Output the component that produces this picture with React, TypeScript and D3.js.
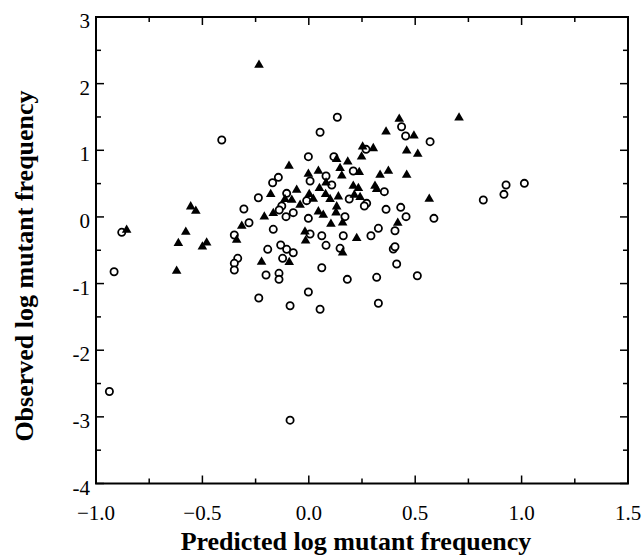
import React from 'react';
import * as d3 from 'd3';

// filled triangles: [predicted, observed]
const triangles: [number, number][] = [
  [-0.234, 2.28], [-0.856, -0.196], [-0.555, 0.154], [-0.531, 0.089], [-0.578, -0.226],
  [-0.613, -0.396], [-0.48, -0.387], [-0.5, -0.447], [-0.621, -0.811], [-0.339, -0.346],
  [-0.315, -0.136], [-0.222, -0.676], [-0.092, -0.681], [-0.209, 0.003], [-0.167, 0.054],
  [-0.179, 0.339], [-0.018, -0.222], [-0.015, -0.357], [0.104, -0.106], [0.159, -0.087],
  [0.225, -0.32], [0.159, -0.537], [0.418, -0.09], [0.706, 1.489], [0.425, 1.469],
  [0.363, 1.279], [0.494, 1.219], [0.46, 0.994], [0.512, 0.944], [0.253, 1.054],
  [0.303, 1.029], [0.248, 0.904], [0.131, 0.864], [0.183, 0.829], [-0.093, 0.764],
  [0.147, 0.729], [0.237, 0.669], [0.374, 0.689], [0.335, 0.629], [0.46, 0.629],
  [0.155, 0.619], [-0.002, 0.644], [0.045, 0.689], [0.081, 0.513], [0.05, 0.429],
  [0.209, 0.464], [0.233, 0.429], [0.311, 0.464], [0.319, 0.414], [-0.057, 0.404],
  [0.002, 0.339], [0.079, 0.339], [0.139, 0.304], [0.214, 0.329], [0.241, 0.294],
  [-0.112, 0.264], [-0.08, 0.254], [0.1, 0.264], [0.021, 0.269], [-0.041, 0.179],
  [0.045, 0.079], [0.068, 0.029], [0.131, 0.154], [0.128, 0.064], [0.566, 0.269],
];

// open circles: [predicted, observed]
const circles: [number, number][] = [
  [-0.409, 1.154], [-0.17, 0.513], [-0.143, 0.594], [-0.237, 0.288], [-0.305, 0.119],
  [-0.281, -0.087], [-0.167, -0.186], [-0.879, -0.231], [-0.35, -0.271], [-0.915, -0.822],
  [-0.334, -0.621], [-0.35, -0.696], [-0.35, -0.796], [-0.193, -0.486], [-0.201, -0.872],
  [-0.235, -1.217], [-0.14, -0.846], [-0.14, -0.937], [0.006, -0.256], [0.061, -0.282],
  [0.081, -0.426], [0.162, -0.282], [0.147, -0.471], [0.292, -0.282], [0.327, -0.171],
  [0.405, -0.207], [0.397, -0.481], [0.405, -0.447], [0.413, -0.706], [0.51, -0.882],
  [0.319, -0.906], [0.327, -1.296], [0.181, -0.937], [0.061, -0.762], [-0.002, -1.127],
  [-0.088, -1.332], [0.053, -1.386], [-0.132, -0.421], [-0.104, -0.486], [-0.073, -0.537],
  [-0.123, -0.621], [0.134, 1.495], [0.053, 1.27], [0.436, 1.354], [0.455, 1.214],
  [0.57, 1.129], [0.269, 1.014], [-0.002, 0.904], [0.118, 0.904], [0.209, 0.689],
  [0.081, 0.614], [0.006, 0.539], [0.108, 0.479], [0.355, 0.379], [-0.104, 0.354],
  [0.19, 0.269], [-0.01, 0.244], [-0.127, 0.164], [-0.073, 0.064], [-0.107, 0.004],
  [-0.139, 0.104], [-0.002, -0.021], [0.17, 0.004], [0.272, 0.204], [0.261, 0.164],
  [0.363, 0.114], [0.432, 0.144], [0.457, 0.004], [0.588, -0.021], [0.927, 0.479],
  [1.013, 0.504], [0.917, 0.339], [0.82, 0.254], [-0.937, -2.62], [-0.088, -3.05],
];

const xTicks = [-1.0, -0.5, 0.0, 0.5, 1.0, 1.5];
const xMinor = [-0.75, -0.25, 0.25, 0.75, 1.25];
const yTicks = [-4, -3, -2, -1, 0, 1, 2, 3];
const yMinor = [-3.5, -2.5, -1.5, -0.5, 0.5, 1.5, 2.5];

const W = 642;
const H = 556;
const left = 96, right = 628, top = 17, bottom = 483.5;
const serif = '"Liberation Serif", "Times New Roman", Times, serif';

export default function App() {
  const x = d3.scaleLinear().domain([-1, 1.5]).range([left, right]);
  const y = d3.scaleLinear().domain([-4, 3]).range([bottom, top]);
  const tri = d3.symbol().type(d3.symbolTriangle).size(40)();

  return (
    <svg width={W} height={H} style={{ position: 'absolute', left: 0, top: 0, background: '#fff' }}>
      {/* ticks on all four sides, inward */}
      <g stroke="#000" strokeWidth={1.5}>
        {xTicks.map(t => (
          <g key={'xt' + t}>
            <line x1={x(t)} x2={x(t)} y1={bottom} y2={bottom - 8} />
            <line x1={x(t)} x2={x(t)} y1={top} y2={top + 8} />
          </g>
        ))}
        {xMinor.map(t => (
          <g key={'xm' + t}>
            <line x1={x(t)} x2={x(t)} y1={bottom} y2={bottom - 5} />
            <line x1={x(t)} x2={x(t)} y1={top} y2={top + 5} />
          </g>
        ))}
        {yTicks.map(t => (
          <g key={'yt' + t}>
            <line x1={left} x2={left + 8} y1={y(t)} y2={y(t)} />
            <line x1={right} x2={right - 8} y1={y(t)} y2={y(t)} />
          </g>
        ))}
        {yMinor.map(t => (
          <g key={'ym' + t}>
            <line x1={left} x2={left + 5} y1={y(t)} y2={y(t)} />
            <line x1={right} x2={right - 5} y1={y(t)} y2={y(t)} />
          </g>
        ))}
      </g>
      <rect x={left} y={top} width={right - left} height={bottom - top} fill="none" stroke="#000" strokeWidth={2} />

      {circles.map((d, i) => (
        <circle key={'c' + i} cx={x(d[0])} cy={y(d[1])} r={3.6} fill="#fff" stroke="#000" strokeWidth={1.8} />
      ))}
      {triangles.map((d, i) => (
        <path key={'t' + i} d={tri!} transform={`translate(${x(d[0])},${y(d[1])})`} fill="#000" />
      ))}

      <g fontFamily={serif} fontSize={21} fill="#000">
        {xTicks.map(t => (
          <text key={'xl' + t} x={x(t)} y={520} textAnchor="middle">{d3.format('.1f')(t)}</text>
        ))}
        {yTicks.map(t => (
          <text key={'yl' + t} x={90} y={y(t) + 11} textAnchor="end">{t}</text>
        ))}
      </g>
      <text x={356} y={550} textAnchor="middle" fontFamily={serif} fontSize={26} fontWeight="bold">
        Predicted log mutant frequency
      </text>
      <text transform="translate(33,266) rotate(-90)" textAnchor="middle" fontFamily={serif} fontSize={26} fontWeight="bold">
        Observed log mutant frequency
      </text>
    </svg>
  );
}
